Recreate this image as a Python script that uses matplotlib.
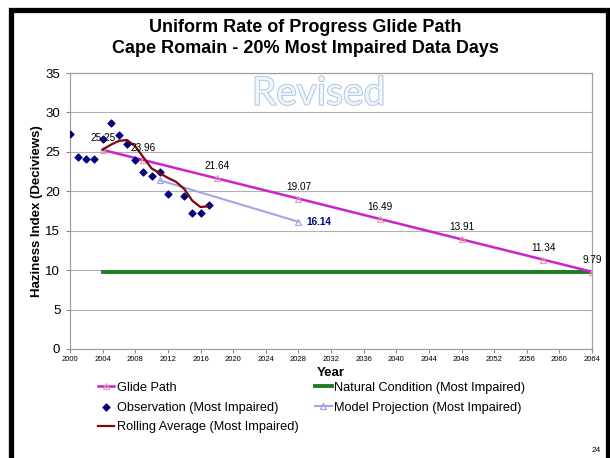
import matplotlib
matplotlib.use("Agg")
import matplotlib.pyplot as plt
import matplotlib.patheffects as pe
from matplotlib.patches import Rectangle

plt.rcParams['font.family'] = ['Liberation Sans', 'DejaVu Sans']

# glide path
glide_years = [2004, 2009, 2018, 2028, 2038, 2048, 2058, 2064]
glide_vals = [25.25, 23.96, 21.64, 19.07, 16.49, 13.91, 11.34, 9.79]

# natural condition
natural_years = [2004, 2064]
natural_vals = [9.79, 9.79]

# observations (most impaired)
obs_years = [2000, 2001, 2002, 2003, 2004, 2005, 2006, 2007, 2008, 2009,
             2010, 2011, 2012, 2014, 2015, 2016, 2017]
obs_vals = [27.3, 24.4, 24.1, 24.1, 26.6, 28.7, 27.2, 26.0, 24.0, 22.4,
            21.9, 22.4, 19.7, 19.4, 17.3, 17.3, 18.2]

# rolling average
roll_years = [2004, 2005, 2006, 2007, 2008, 2009, 2010, 2011, 2012, 2013,
              2014, 2015, 2016, 2017]
roll_vals = [25.3, 25.9, 26.4, 26.5, 25.7, 24.3, 22.9, 22.3, 21.7, 21.2,
             20.3, 18.8, 18.0, 18.1]

# model projection
model_years = [2011, 2028]
model_vals = [21.4, 16.14]

x_ticks = list(range(2000, 2065, 4))
y_ticks = list(range(0, 36, 5))

fig = plt.figure(figsize=(6.1, 4.58), dpi=100)
ax = fig.add_axes([0.1148, 0.238, 0.8557, 0.6026])

ax.plot(glide_years, glide_vals, color='#cc22cc', lw=1.8, marker='^',
        ms=5, mfc='none', mec='#e0a0b0', mew=0.9, label='Glide Path', zorder=4)
ax.scatter(obs_years, obs_vals, marker='D', s=12, color='#000080',
           label='Observation (Most Impaired)', zorder=5)
ax.plot(roll_years, roll_vals, color='#7a0a0a', lw=1.6,
        label='Rolling Average (Most Impaired)', zorder=6)
ax.plot(natural_years, natural_vals, color='#1e7d1e', lw=2.8,
        label='Natural Condition (Most Impaired)', zorder=3)
ax.plot(model_years, model_vals, color='#a4a4e6', lw=1.5, marker='^',
        ms=5, mfc='none', mec='#a4a4e6', mew=0.9,
        label='Model Projection (Most Impaired)', zorder=3)

for yr, v in zip(glide_years, glide_vals):
    ax.annotate(f"{v:.2f}", (yr, v), xytext=(0, 5), textcoords='offset points',
                ha='center', va='bottom', fontsize=7.2, color='black', zorder=7)
ax.annotate(f"{model_vals[-1]:.2f}", (model_years[-1], model_vals[-1]),
            xytext=(6, 0), textcoords='offset points', ha='left', va='center',
            fontsize=7.2, color='#000080', fontweight='bold')

ax.set_xlim(2000, 2064)
ax.set_ylim(0, 35)
ax.set_xticks(x_ticks)
ax.set_yticks(y_ticks)
ax.tick_params(axis='x', labelsize=5.5, length=3, color='#888888', pad=2)
ax.tick_params(axis='y', labelsize=9.5, length=3, color='#888888', pad=4)
ax.grid(axis='y', color='#b0b0b0', lw=0.8)
ax.set_axisbelow(True)
for s in ax.spines.values():
    s.set_color('#a0a0a0')
    s.set_linewidth(0.9)

ax.set_xlabel('Year', fontsize=9.5, fontweight='bold', labelpad=3)
ax.set_ylabel('Haziness Index (Deciviews)', fontsize=9.5, fontweight='bold',
              labelpad=2)

ax.text(0.476, 0.925, 'Revised', transform=ax.transAxes, ha='center',
        va='center', fontsize=28, color='#f0f5fb', family='Lato',
        path_effects=[pe.withStroke(linewidth=1.3, foreground='#a6c2de')])

fig.text(0.5, 0.94, 'Uniform Rate of Progress Glide Path', ha='center',
         va='center', fontsize=13, fontweight='bold')
fig.text(0.5, 0.894, 'Cape Romain - 20% Most Impaired Data Days', ha='center',
         va='center', fontsize=13, fontweight='bold')

handles, labels = ax.get_legend_handles_labels()
fig.legend(handles, labels, ncol=2, loc='upper left',
           bbox_to_anchor=(0.16, 0.166), frameon=False, fontsize=9.2,
           handlelength=1.3, handletextpad=0.2, labelspacing=0.6,
           columnspacing=1.3, borderaxespad=0, borderpad=0)

fig.text(0.985, 0.008, '24', ha='right', va='bottom', fontsize=6)

fig.add_artist(Rectangle((10.5 / 610, -0.05), (597 / 610), 1.05 - 10.5 / 458,
                         transform=fig.transFigure, fill=False, ec='black',
                         lw=3.8, clip_on=False))

fig.savefig('out.png', dpi=100)
